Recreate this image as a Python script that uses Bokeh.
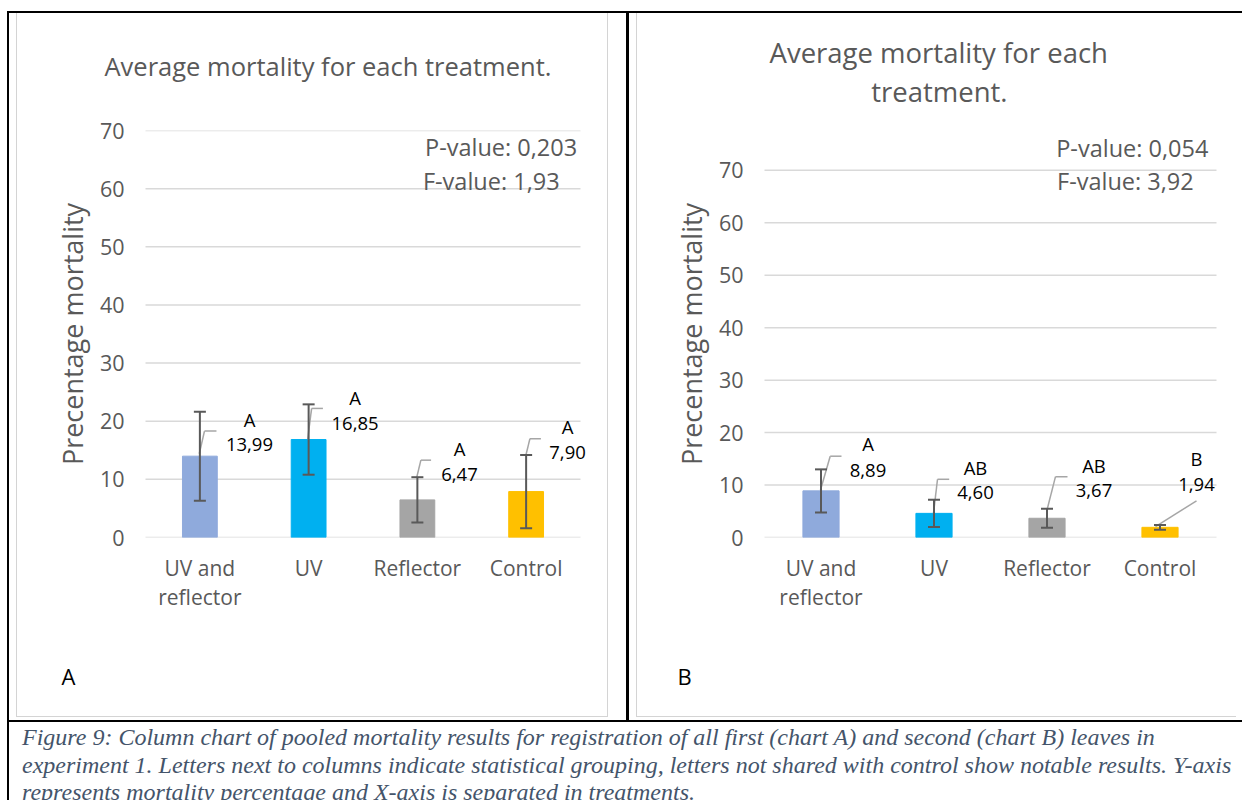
from bokeh.plotting import figure
from bokeh.models import (ColumnDataSource, Range1d, FactorRange, FixedTicker, Whisker,
                          TeeHead, Label, Title, Div)
from bokeh.layouts import row, column
from bokeh.embed import file_html
from bokeh.resources import INLINE
from bokeh.core.properties import value

# ---------------- data ----------------
categories = ["UV and reflector", "UV", "Reflector", "Control"]
tick_names = ["UV and\nreflector", "UV", "Reflector", "Control"]
y_ticks = [0, 10, 20, 30, 40, 50, 60, 70]
bar_colors = ["#8FAADC", "#00B0F0", "#A5A5A5", "#FFC000"]

mean_a = [13.99, 16.85, 6.47, 7.90]
err_a = [7.65, 6.05, 3.90, 6.30]
group_a = ["A", "A", "A", "A"]
stats_a = ["P-value: 0,203", "F-value: 1,93"]
title_a = ["Average mortality for each treatment."]

mean_b = [8.89, 4.60, 3.67, 1.94]
err_b = [4.10, 2.60, 1.80, 0.45]
group_b = ["A", "AB", "AB", "B"]
stats_b = ["P-value: 0,054", "F-value: 3,92"]
title_b = ["Average mortality for each", "treatment."]

y_title = "Precentage mortality"
caption_lines = [
    "Figure 9: Column chart of pooled mortality results for registration of all first (chart A) and second (chart B) leaves in",
    "experiment 1. Letters next to columns indicate statistical grouping, letters not shared with control show notable results. Y-axis",
    "represents mortality percentage and X-axis is separated in treatments.",
]

# ---------------- styles / layout ----------------
FONT = "Open Sans"
TXT = "#595959"
GRID = "#D9D9D9"
FRAME = "#D4D4D4"
LEADER = "#A6A6A6"
PH = 703          # plot canvas height
PAD = 16          # extra frame room (px) each side so outer labels are not clipped
NBSP = "\u00a0"

cfg_a = dict(
    w=590, left=128 - PAD, right=27 - PAD, top=117, bottom=179, ytop=70,
    title=title_a, title_off=[-41 + PAD], title_size="25.5px",
    title_standoff=[8], spacer_top=41,
    stats_xy=[(407.5, 133.7), (405.4, 167)], stats=stats_a,
    letter="A", letter_off=-84 + PAD, spacer_bottom=39,
    tick_standoff=21 - PAD,
    mean=mean_a, err=err_a, group=group_a,
    lab_dx=[49.6, 46.4, 42.1, 41.4],
    let_y=[20.3, 24.1, 15.3, 19.1],
    num_y=[16.0, 19.6, 10.9, 14.65],
    lead=[[(-0.6, 14.4), (4.6, 18.3), (16.6, 18.3)],
          [(-1.0, 16.9), (3.0, 22.2), (14.3, 22.2)],
          [(-0.6, 10.36), (3.5, 13.3), (13.7, 13.3)],
          [(-0.3, 14.1), (3.8, 17.0), (14.8, 17.0)]],
)
cfg_b = dict(
    w=599, left=127 - PAD, right=20 - PAD, top=117, bottom=179, ytop=77.6,
    title=title_b, title_off=[5 + PAD, 106.7 + PAD], title_size="27.5px",
    title_standoff=[0, 0], spacer_top=18,
    stats_xy=[(418.7, 134), (419.5, 167)], stats=stats_b,
    letter="B", letter_off=-87 + PAD, spacer_bottom=39,
    tick_standoff=21 - PAD,
    mean=mean_b, err=err_b, group=group_b,
    lab_dx=[47, 41.5, 47, 36.5],
    let_y=[18.0, 13.4, 13.8, 15.1],
    num_y=[12.86, 8.5, 9.05, 10.2],
    lead=[[(-0.5, 9.05), (9.2, 15.5), (20.5, 15.5)],
          [(-0.5, 4.6), (3.5, 11.1), (15.2, 11.1)],
          [(0.0, 5.24), (8.5, 11.6), (20.5, 11.6)],
          [(-4.5, 2.06), (36.5, 7.0), (36.5, 7.0)]],
)


def fmt(v):
    return f"{v:.2f}".replace(".", ",")


def spacer_title(standoff):
    return Title(text=NBSP, standoff=standoff, text_font_size="1px", text_color="white")


def make_chart(c):
    n = len(categories)
    frame_w = c["w"] - c["left"] - c["right"]
    px_cat = (frame_w - 2 * PAD) / n
    pad_units = PAD / px_cat

    xr = FactorRange(*tick_names, range_padding=pad_units, range_padding_units="absolute")
    p = figure(x_range=xr, y_range=Range1d(0, c["ytop"]),
               width=c["w"], height=PH, output_backend="svg", toolbar_location=None,
               min_border_left=c["left"], min_border_right=c["right"],
               min_border_top=c["top"], min_border_bottom=c["bottom"])
    p.background_fill_color = "white"
    p.border_fill_color = "white"
    p.outline_line_color = None
    p.xgrid.grid_line_color = None
    p.ygrid.grid_line_color = None
    p.yaxis.ticker = FixedTicker(ticks=y_ticks)

    yax = p.yaxis[0]
    yax.axis_line_color = None
    yax.major_tick_line_color = None
    yax.minor_tick_line_color = None
    yax.major_tick_out = 0
    yax.major_tick_in = 0
    yax.minor_tick_out = 0
    yax.major_label_standoff = c["tick_standoff"]
    yax.major_label_text_font = FONT
    yax.major_label_text_font_size = "21.5px"
    yax.major_label_text_color = TXT
    yax.axis_label = y_title
    yax.axis_label_text_font = FONT
    yax.axis_label_text_font_style = "normal"
    yax.axis_label_text_font_size = "27px"
    yax.axis_label_text_color = TXT
    yax.axis_label_standoff = 6

    xax = p.xaxis[0]
    xax.axis_line_color = None
    xax.major_tick_line_color = None
    xax.minor_tick_line_color = None
    xax.major_tick_out = 0
    xax.major_tick_in = 0
    xax.minor_tick_out = 0
    xax.major_label_text_font = FONT
    xax.major_label_text_font_size = "21px"
    xax.major_label_text_color = TXT
    xax.major_label_standoff = 16
    xax.major_label_text_line_height = 1.05

    # horizontal gridlines spanning the category area only
    p.segment(x0=[0] * len(y_ticks), x1=[n] * len(y_ticks), y0=y_ticks, y1=y_ticks,
              line_color=GRID, line_width=1.5)

    src = ColumnDataSource(dict(
        cat=tick_names, val=c["mean"], color=bar_colors,
        upper=[m + e for m, e in zip(c["mean"], c["err"])],
        lower=[m - e for m, e in zip(c["mean"], c["err"])],
        grp=c["group"], num=[fmt(v) for v in c["mean"]],
        dx=c["lab_dx"], ly=c["let_y"], ny=c["num_y"],
    ))
    p.vbar(x="cat", top="val", bottom=0, width=0.32, color="color", source=src)

    wh = Whisker(base="cat", upper="upper", lower="lower", source=src,
                 line_color=TXT, line_width=2,
                 upper_head=TeeHead(size=12, line_color=TXT, line_width=2),
                 lower_head=TeeHead(size=12, line_color=TXT, line_width=2))
    wh.level = "overlay"
    p.add_layout(wh)

    x0, y0, x1, y1, x2, y2 = [], [], [], [], [], []
    for i, pts in enumerate(c["lead"]):
        cx = i + 0.5
        x0.append(cx + pts[0][0] / px_cat); y0.append(pts[0][1])
        x1.append(cx + pts[1][0] / px_cat); y1.append(pts[1][1])
        x2.append(cx + pts[2][0] / px_cat); y2.append(pts[2][1])
    p.segment(x0=x0, y0=y0, x1=x1, y1=y1, line_color=LEADER, line_width=1.5)
    p.segment(x0=x1, y0=y1, x1=x2, y1=y2, line_color=LEADER, line_width=1.5)

    p.text(x="cat", y="ly", text="grp", x_offset="dx", source=src,
           text_font=value(FONT), text_font_size="18.5px", text_color="#000000",
           text_align="center", text_baseline="middle")
    p.text(x="cat", y="ny", text="num", x_offset="dx", source=src,
           text_font=value(FONT), text_font_size="18.5px", text_color="#000000",
           text_align="center", text_baseline="middle")

    # above the frame: spacer first (nearest), then title lines from bottom to top
    p.add_layout(spacer_title(c["spacer_top"]), "above")
    for txt, off, so in reversed(list(zip(c["title"], c["title_off"], c["title_standoff"]))):
        p.add_layout(Title(text=txt, align="left", offset=off, standoff=so,
                           text_font=FONT, text_font_size=c["title_size"],
                           text_font_style="normal", text_color=TXT), "above")

    for (sx, sy), s in zip(c["stats_xy"], c["stats"]):
        p.add_layout(Label(x=sx, y=sy, x_units="canvas", y_units="canvas", text=s,
                           text_font=FONT, text_font_size="23.5px", text_color=TXT,
                           text_align="left", text_baseline="middle"))

    # below the x axis: spacer, then the panel letter
    p.add_layout(spacer_title(c["spacer_bottom"]), "below")
    p.add_layout(Title(text=c["letter"], align="left", offset=c["letter_off"], standoff=6,
                       text_font=FONT, text_font_size="22px", text_font_style="normal",
                       text_color="#000000"), "below")
    return p


pA = make_chart(cfg_a)
pB = make_chart(cfg_b)


def box(w, h, color=None):
    st = {"background-color": color} if color else {}
    return Div(text="", width=w, height=h, margin=0, styles=st)


BLACK = "#000000"
W = 1242
CH = 707
CAPH = 78

cellA = row(box(7, CH),
            column(row(box(1, PH, FRAME), pA, box(1, PH, FRAME)),
                   box(592, 1, FRAME), box(592, 3)),
            box(18, CH))
cellB = row(box(7, CH),
            column(row(box(1, PH, FRAME), pB),
                   box(600, 1, FRAME), box(600, 3)))

cap_html = ('<div style="padding:2px 0 0 13px; font-family:\'Liberation Serif\', serif; '
            'font-style:italic; font-size:24px; line-height:27.5px; color:#44546A; '
            'white-space:nowrap;">' + "<br>".join(caption_lines) + "</div>")
cap = Div(text=cap_html, width=W - 9, height=CAPH, margin=0, styles={"overflow": "hidden"})

root = column(box(W, 11),
              row(box(7, 2), box(W - 7, 2, BLACK)),
              row(box(7, CH), box(2, CH, BLACK), cellA, box(3, CH, BLACK), cellB),
              row(box(7, 2), box(W - 7, 2, BLACK)),
              row(box(7, CAPH), box(2, CAPH, BLACK), cap))

with open("out.html", "w") as f:
    f.write(file_html(root, INLINE))
